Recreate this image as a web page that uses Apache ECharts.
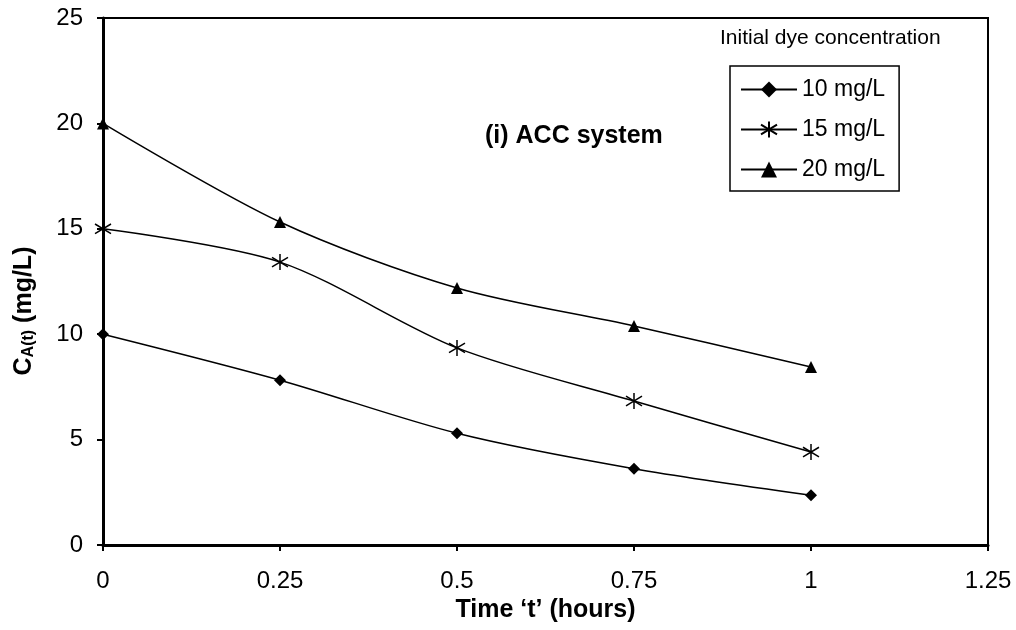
<!DOCTYPE html>
<html>
<head>
<meta charset="utf-8">
<script src="https://cdn.jsdelivr.net/npm/echarts@6/dist/echarts.min.js"></script>
<style>
  html, body { margin: 0; padding: 0; background: #fff; }
  #chart { width: 1016px; height: 630px; }
</style>
</head>
<body>
<div id="chart"></div>
<script>
// time points (hours)
const times = [0, 0.25, 0.5, 0.75, 1]
// concentration C_A(t) for each initial dye concentration
const c10 = [10, 7.82, 5.3, 3.62, 2.36]
const c15 = [15, 13.42, 9.35, 6.83, 4.41]
const c20 = [20, 15.32, 12.19, 10.39, 8.44]
const seriesNames = ['10 mg/L', '15 mg/L', '20 mg/L']

const font = "'Liberation Sans', Arial, sans-serif"
const star = 'path://M0,-10 L0,10 M-8,-6 L8,6 M-8,6 L8,-6'

const pairs = (ys) => times.map((t, i) => [t, ys[i]])

const myEcharts = echarts.init(document.getElementById('chart'))
const option = {
  animation: false,
  textStyle: { fontFamily: font, color: '#000' },
  grid: {
    left: 103, right: 28, top: 18, bottom: 85,
    show: true, borderColor: '#000', borderWidth: 2, backgroundColor: '#fff'
  },
  xAxis: {
    type: 'value', min: 0, max: 1.25, interval: 0.25,
    name: 'Time \u2018t\u2019 (hours)', nameLocation: 'middle', nameGap: 48,
    nameTextStyle: { fontSize: 25, fontWeight: 'bold', color: '#000', fontFamily: font },
    axisLine: { onZero: false, lineStyle: { color: '#000', width: 3 } },
    axisTick: { length: 6, lineStyle: { color: '#000', width: 2 } },
    axisLabel: { fontSize: 24, color: '#000', margin: 24, fontFamily: font },
    splitLine: { show: false }
  },
  yAxis: {
    type: 'value', min: 0, max: 25, interval: 5,
    axisLine: { onZero: false, lineStyle: { color: '#000', width: 3 } },
    axisTick: { length: 6, lineStyle: { color: '#000', width: 2 } },
    axisLabel: { fontSize: 24, color: '#000', margin: 20, fontFamily: font },
    splitLine: { show: false }
  },
  legend: {
    orient: 'vertical', left: 730, top: 66,
    padding: [12, 14, 10, 10], itemGap: 17,
    itemWidth: 56, itemHeight: 20,
    borderColor: '#000', borderWidth: 1.5, backgroundColor: '#fff',
    textStyle: { fontSize: 23, color: '#000', fontFamily: font },
    data: seriesNames
  },
  graphic: [
    {
      type: 'text', left: 720, top: 28,
      style: { text: 'Initial dye concentration', fontSize: 21, fill: '#000', fontFamily: font }
    },
    {
      type: 'text', left: 485, top: 124,
      style: { text: '(i) ACC system', fontSize: 25, fontWeight: 'bold', fill: '#000', fontFamily: font }
    },
    {
      // y axis title, sits a bit below the middle like the original
      type: 'text', x: 24, y: 311, rotation: Math.PI / 2,
      style: {
        text: '{b|C}{s|A(t)}{b| (mg/L)}',
        align: 'center', verticalAlign: 'middle',
        rich: {
          b: { fontSize: 25, fontWeight: 'bold', fill: '#000', fontFamily: font },
          s: { fontSize: 16, fontWeight: 'bold', fill: '#000', fontFamily: font, verticalAlign: 'bottom', padding: [10, 0, 0, 0] }
        }
      }
    }
  ],
  series: [
    {
      name: seriesNames[0], type: 'line', smooth: 0.3, data: pairs(c10),
      symbol: 'diamond', symbolSize: 12,
      lineStyle: { color: '#000', width: 1.5 },
      itemStyle: { color: '#000' }
    },
    {
      name: seriesNames[1], type: 'line', smooth: 0.3, data: pairs(c15),
      symbol: star, symbolSize: 16,
      lineStyle: { color: '#000', width: 1.5 },
      itemStyle: { color: 'none', borderColor: '#000', borderWidth: 1.5 }
    },
    {
      name: seriesNames[2], type: 'line', smooth: 0.3, data: pairs(c20),
      symbol: 'triangle', symbolSize: 12,
      lineStyle: { color: '#000', width: 1.5 },
      itemStyle: { color: '#000' }
    }
  ]
}
myEcharts.setOption(option)
</script>
</body>
</html>
